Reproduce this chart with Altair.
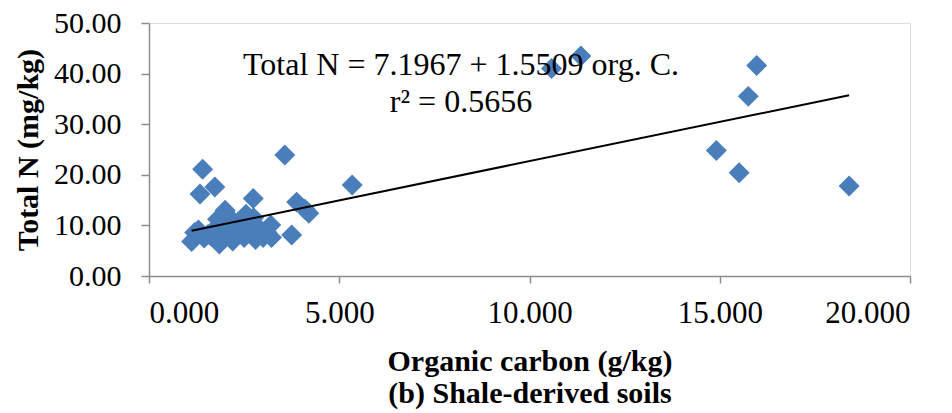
import altair as alt
import pandas as pd

# Organic carbon (g/kg) and Total N (mg/kg)
org_c = [1.12, 1.20, 1.30, 1.45, 1.55, 1.65, 1.75, 1.80, 1.85, 1.90,
         1.95, 2.00, 2.05, 2.10, 2.15, 2.20, 2.25, 2.30, 2.40, 2.45,
         2.50, 2.55, 2.60, 2.70, 2.75, 2.80, 2.90, 3.00, 3.10, 3.20,
         3.22, 2.74, 3.75, 3.88, 4.10, 4.20, 3.57, 1.41, 1.73, 1.34,
         5.34, 2.00, 10.58, 11.35, 15.97, 15.75, 14.91, 15.51, 18.40]
total_n = [6.8, 8.6, 9.1, 7.5, 8.2, 7.8, 9.5, 11.2, 6.3, 8.8,
           10.0, 12.8, 11.6, 9.2, 7.4, 6.9, 10.6, 8.0, 11.0, 9.0,
           7.6, 12.2, 10.0, 8.4, 11.5, 7.2, 9.4, 7.6, 8.6, 10.1,
           7.6, 15.3, 8.1, 14.6, 13.2, 12.4, 23.9, 21.1, 17.6, 16.2,
           18.0, 13.0, 41.0, 43.5, 41.6, 35.5, 24.8, 20.4, 17.8]

intercept = 7.1967
slope = 1.5509
eq_lines = ["Total N = 7.1967 + 1.5509 org. C.", "r² = 0.5656"]

x_ticks = [0, 5, 10, 15, 20]
y_ticks = [0, 10, 20, 30, 40, 50]

df = pd.DataFrame({"c": org_c, "n": total_n})
xmin, xmax = min(org_c), max(org_c)
fit = pd.DataFrame({"c": [xmin, xmax],
                    "n": [intercept + slope * xmin, intercept + slope * xmax]})

FONT = "Times New Roman"
GREY = "#8c8c8c"

xscale = alt.Scale(domain=[0, 20], nice=False, zero=True)
yscale = alt.Scale(domain=[0, 50], nice=False, zero=True)

xaxis = alt.Axis(values=x_ticks, format=".3f", grid=False,
                 title=["Organic carbon (g/kg)", "(b) Shale-derived soils"],
                 titleFont=FONT, titleFontSize=30, titleFontWeight="bold",
                 titleColor="black", titleLineHeight=32, titlePadding=18,
                 labelFont=FONT, labelFontSize=31, labelColor="black",
                 labelPadding=15, tickSize=7, tickColor=GREY,
                 domainColor=GREY, domainWidth=1.5, tickWidth=1.5)
yaxis = alt.Axis(values=y_ticks, format=".2f", grid=False,
                 title="Total N (mg/kg)",
                 titleFont=FONT, titleFontSize=30, titleFontWeight="bold",
                 titleColor="black", titlePadding=10,
                 labelFont=FONT, labelFontSize=30, labelColor="black",
                 labelPadding=20, tickSize=8, tickColor=GREY,
                 domainColor=GREY, domainWidth=1.5, tickWidth=1.5)

points = alt.Chart(df).mark_point(shape="diamond", filled=True, size=440,
                                  color="#4a7ebb", opacity=1).encode(
    x=alt.X("c:Q", scale=xscale, axis=xaxis),
    y=alt.Y("n:Q", scale=yscale, axis=yaxis),
)

line = alt.Chart(fit).mark_line(color="black", strokeWidth=2).encode(
    x=alt.X("c:Q", scale=xscale),
    y=alt.Y("n:Q", scale=yscale),
)

label_df = pd.DataFrame({"t": [eq_lines]})
label = alt.Chart(label_df).mark_text(font=FONT, fontSize=32, color="black",
                                      align="center", baseline="alphabetic",
                                      lineHeight=37).encode(
    text="t",
    x=alt.value(312),
    y=alt.value(52),
)

chart = alt.layer(points, line, label).properties(
    width=761, height=253,
    autosize=alt.AutoSizeParams(type="none"),
    padding={"left": 149, "top": 23, "right": 42, "bottom": 137},
).configure_view(stroke=None).configure(background="white")

chart.save("out.html", embed_options={"renderer": "svg", "actions": False})
